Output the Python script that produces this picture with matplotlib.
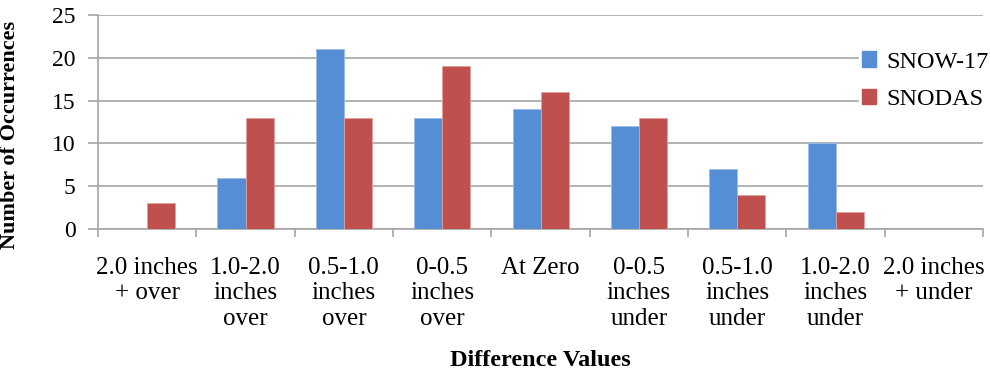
import numpy as np
import matplotlib.pyplot as plt
from matplotlib.patches import Patch

# Data
categories = ["2.0 inches\n+ over", "1.0-2.0\ninches\nover", "0.5-1.0\ninches\nover",
              "0-0.5\ninches\nover", "At Zero", "0-0.5\ninches\nunder",
              "0.5-1.0\ninches\nunder", "1.0-2.0\ninches\nunder", "2.0 inches\n+ under"]
snow17 = [0, 6, 21, 13, 14, 12, 7, 10, 0]
snodas = [3, 13, 13, 19, 16, 13, 4, 2, 0]

blue = "#558ED5"
red = "#C0504D"
grid_c = "#A6A6A6"

plt.rcParams['font.family'] = ['Liberation Serif', 'DejaVu Serif']

fig = plt.figure(figsize=(9.9, 3.77), dpi=100)
ax = fig.add_axes([0.099, 0.393, 0.894, 0.567])

x = np.arange(len(categories))
w = 0.285
ax.bar(x - w / 2, snow17, w, color=blue, edgecolor="#9DBCE6", linewidth=0.6, zorder=3)
ax.bar(x + w / 2, snodas, w, color=red, edgecolor="#E0A09E", linewidth=0.6, zorder=3)

ax.set_xlim(-0.5, len(categories) - 0.5)
ax.set_ylim(0, 25)
ax.set_yticks([0, 5, 10, 15, 20, 25])
ax.yaxis.grid(True, color=grid_c, linewidth=1.2, zorder=0)

ax.set_xticks(x)
ax.set_xticklabels(categories, fontsize=18, linespacing=1.22, va='top')
ax.set_xticks(np.arange(-0.5, len(categories)), minor=True)
ax.tick_params(axis='x', which='major', length=0, pad=20)
ax.tick_params(axis='x', which='minor', length=6, width=1.2, color=grid_c)
ax.tick_params(axis='y', length=7, width=1.2, color=grid_c, labelsize=17, pad=9)

for s in ['top', 'right']:
    ax.spines[s].set_visible(False)
for s in ['left', 'bottom']:
    ax.spines[s].set_color(grid_c)
    ax.spines[s].set_linewidth(1.2)

ax.set_ylabel("Number of Occurrences", fontsize=16, fontweight='bold')
ax.yaxis.set_label_coords(-0.088, 0.44)
fig.text(0.546, 0.045, "Difference Values", fontsize=17.5, fontweight='bold', ha='center', va='center')

handles = [Patch(color=blue, label="SNOW-17"), Patch(color=red, label="SNODAS")]
leg = fig.legend(handles=handles, loc='upper left', bbox_to_anchor=(0.868, 0.87),
                 frameon=True, fontsize=17.5, handlelength=0.6, handleheight=0.6,
                 handletextpad=0.4, labelspacing=0.65, borderpad=0.1, borderaxespad=0)
leg.get_frame().set_edgecolor('white')
leg.get_frame().set_facecolor('white')
leg.get_frame().set_alpha(1)

fig.savefig("out.png", dpi=100)
